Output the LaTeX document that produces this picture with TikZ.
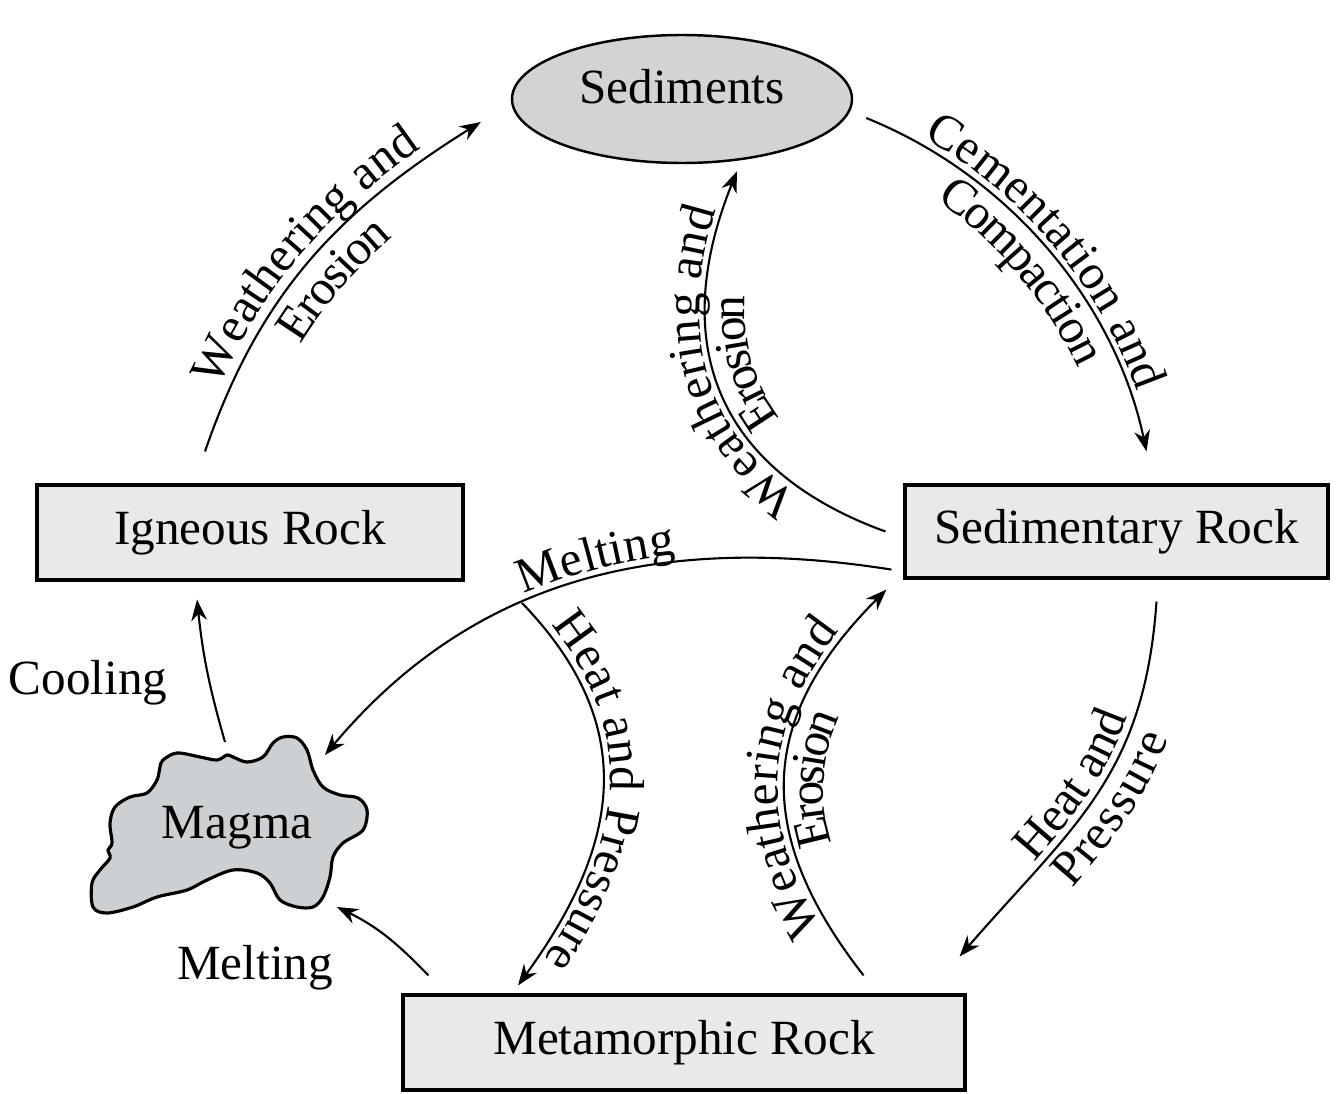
\documentclass[tikz,border=0pt]{standalone}
\usepackage{fontspec}
\setmainfont{Liberation Serif}
\usetikzlibrary{shapes.geometric, arrows.meta, decorations.text}
\definecolor{sedfill}{RGB}{210,211,213}
\definecolor{rockfill}{RGB}{233,233,233}
\definecolor{magfill}{RGB}{205,208,210}
\newcommand{\lblfont}{\fontsize{14}{17}\selectfont}
\tikzset{
	>={Stealth[length=6pt,width=4.5pt]},
	every node/.style={font=\lblfont},
	rock/.style={draw, line width=0.9pt, fill=rockfill, minimum height=0.95cm, inner sep=0pt},
	sedi/.style={ellipse, draw, line width=0.7pt, fill=sedfill, minimum width=3.4cm, minimum height=1.28cm, inner sep=0pt},
	flow/.style={->, line width=0.6pt},
	lbl/.style n args={3}{postaction={-, decorate, decoration={text along path, text align={center, left indent=#3}, raise=#2, text={|\lblfont|#1}}}}
}

\begin{document}
\begin{tikzpicture}
	\useasboundingbox (0,0) rectangle (13.36,10.93);

	\node[sedi, text depth=0.26cm] (sed) at (6.82,9.94) {Sediments};
	\node[rock, minimum width=4.26cm] (ign) at (2.50,5.605) {Igneous Rock};
	\node[rock, minimum width=4.23cm, minimum height=0.93cm] (sdr) at (11.165,5.615) {Sedimentary Rock};
	\node[rock, minimum width=5.62cm] (met) at (6.84,0.505) {Metamorphic Rock};

	\draw[line width=0.9pt, fill=magfill] plot[smooth cycle, tension=0.55] coordinates {
		(1.63,3.33) (1.77,3.40) (2.00,3.36) (2.17,3.33) (2.27,3.38) (2.33,3.36)
		(2.47,3.31) (2.63,3.36) (2.73,3.50) (2.83,3.56) (2.97,3.55) (3.07,3.43)
		(3.13,3.23) (3.23,3.06) (3.40,2.98) (3.58,2.95) (3.67,2.83) (3.63,2.63)
		(3.43,2.50) (3.33,2.36) (3.30,2.16) (3.23,1.96) (3.13,1.86) (2.97,1.86)
		(2.80,1.93) (2.70,2.10) (2.57,2.20) (2.33,2.23) (2.07,2.13) (1.87,2.03)
		(1.57,1.96) (1.33,1.86) (1.07,1.80) (0.93,1.86) (0.92,2.10) (1.00,2.23)
		(1.10,2.35) (1.08,2.43) (1.12,2.50) (1.10,2.70) (1.15,2.86) (1.30,2.96)
		(1.47,3.00) (1.57,3.13) (1.60,3.26)};
	\node (mag) at (2.37,2.65) {Magma};

	\node (cool) at (0.88,4.10) {Cooling};
	\node (melt) at (2.55,1.25) {Melting};
	\coordinate (hp) at (5.22,4.90);

	\path[flow]
	([shift={(-0.45,0.32)}]ign.north) edge[out=71, in=-148, lbl={Weathering and}{3pt}{0pt}, lbl={Erosion}{-12pt}{0pt}] ([shift={(-0.30,-0.23)}]sed.west)
	([shift={(0.13,-0.19)}]sed.east) edge[out=-22, in=102, looseness=0.9, lbl={Cementation and}{2pt}{0pt}, lbl={Compaction}{-11pt}{0pt}] ([shift={(0.30,0.32)}]sdr.north)
	([xshift=-0.18cm]sdr.west) edge[out=160, in=-112, looseness=1.2, lbl={Weathering and}{2pt}{0.5cm}, lbl={Erosion}{-11pt}{0.4cm}] ([shift={(0.55,-0.07)}]sed.south)
	([shift={(-0.12,0.10)}]sdr.south west) edge[out=171, in=50] ([shift={(0.88,0.73)}]mag.center)
	([shift={(0.27,0.18)}]met.north west) edge[out=134, in=-26] ([shift={(1.00,-0.79)}]mag.center)
	([shift={(-0.12,0.86)}]mag.center) edge[out=106, in=-84] ([shift={(-0.53,-0.18)}]ign.south)
	([shift={(0.40,-0.22)}]sdr.south) edge[out=-94, in=49, looseness=1.1] ([shift={(-0.07,0.37)}]met.north east)
	(hp) edge[out=-46, in=54, looseness=1.15, lbl={Heat and Pressure}{2pt}{0pt}] ([shift={(-1.66,0.08)}]met.north)
	([shift={(-1.03,0.18)}]met.north east) edge[out=128, in=-135, looseness=1.2, lbl={Weathering and}{2pt}{0pt}, lbl={Erosion}{-11pt}{0pt}] ([shift={(-0.17,-0.10)}]sdr.south west)
	;

	\path
	([shift={(0.88,0.73)}]mag.center) edge[draw=none, out=50, in=171, lbl={Melting}{2pt}{0.4cm}] ([shift={(-0.12,0.10)}]sdr.south west)
	([shift={(-0.07,0.37)}]met.north east) edge[draw=none, out=49, in=-94, looseness=1.1, lbl={Heat and}{2pt}{0pt}, lbl={Pressure}{-11pt}{0pt}] ([shift={(0.40,-0.22)}]sdr.south)
	;
\end{tikzpicture}
\end{document}
